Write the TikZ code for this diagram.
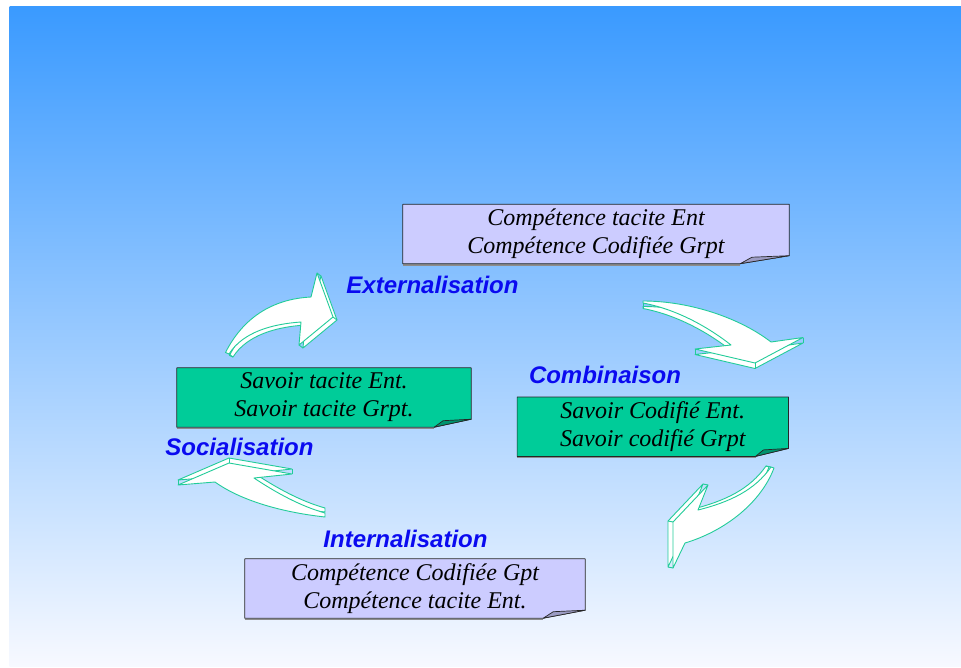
\documentclass[tikz,border=0pt]{standalone}
\usepackage{fontspec}
\setmainfont{Liberation Serif}
\newfontfamily\phasefont{Liberation Sans}
\usetikzlibrary{backgrounds}

\definecolor{bgtop}{HTML}{3A9AFF}
\definecolor{bgbot}{HTML}{F7F9FF}
\definecolor{lav}{HTML}{CCCCFF}
\definecolor{lavfold}{HTML}{9C9CC4}
\definecolor{savoir}{HTML}{00CC99}
\definecolor{savoirfold}{HTML}{00936E}
\definecolor{arrowline}{HTML}{22CC99}
\definecolor{phaseblue}{HTML}{0A0AF0}

\tikzset{
	notebox/.style={minimum height=59pt, inner sep=0pt, align=center,
		font=\itshape\fontsize{24}{28}\selectfont},
	boxline/.style={draw=black!85, line width=0.7pt, line join=round},
	phase/.style={text=phaseblue, inner sep=0pt,
		font=\phasefont\bfseries\itshape\fontsize{24}{28}\selectfont},
	blockarrow/.style={fill=white, draw=arrowline, line width=0.9pt, line join=round},
	arrowedge/.style={draw=arrowline, line width=0.9pt}
}

\begin{document}
\begin{tikzpicture}[x=1pt, y=-1pt]
	\useasboundingbox (0,0) rectangle (961,667);

	% The four knowledge states
	\node[notebox, minimum width=386pt] (ct) at (596,234)
		{Compétence tacite Ent\\Compétence Codifiée Grpt};
	\node[notebox, minimum width=294pt] (st) at (324,397.5)
		{Savoir tacite Ent.\\Savoir tacite Grpt.};
	\node[notebox, minimum width=271pt] (sc) at (652.8,426.7)
		{Savoir Codifié Ent.\\Savoir codifié Grpt};
	\node[notebox, minimum width=340pt] (cc) at (415,588.5)
		{Compétence Codifiée Gpt\\Compétence tacite Ent.};

	% The four conversion phases
	\node[phase] (ext) at (432.5,285) {Externalisation};
	\node[phase] (comb) at (605,375) {Combinaison};
	\node[phase] (soc) at (239.5,447) {Socialisation};
	\node[phase] (int) at (405.5,539) {Internalisation};

	\begin{pgfonlayer}{background}
		% Page and background gradient
		\fill[white] (0,0) rectangle (961,667);
		\shade[top color=bgtop, bottom color=bgbot] (9.5,6) rectangle (961,666);
		% Notes with a folded corner
		\foreach \n/\c/\f/\w in {ct/lav/lavfold/49, st/savoir/savoirfold/37,
				sc/savoir/savoirfold/33, cc/lav/lavfold/42} {
			\draw[black!45, line width=1.6pt] ([yshift=-1.2pt]\n.south west)
				-- ([xshift=-\w pt, yshift=-1.2pt]\n.south east);
			\filldraw[boxline, fill=\c] (\n.north west) -- (\n.north east)
				-- ([yshift=8pt]\n.south east) -- ([xshift=-\w pt]\n.south east)
				-- (\n.south west) -- cycle;
			\filldraw[boxline, fill=\f] ([yshift=8pt]\n.south east)
				-- ([xshift={-0.76*\w pt}, yshift=6.5pt]\n.south east)
				-- ([xshift=-\w pt]\n.south east) -- cycle;
		}
	\end{pgfonlayer}

	% Externalisation arrow
	\foreach \dx/\dy in {4/3, 0/0} {
		\draw[blockarrow, shift={(\dx,\dy)}] (225.5,352.5)
			.. controls (243,318) and (272,299) .. (311,297) -- (317,273)
			-- (333,317) -- (299,345) -- (301,322)
			.. controls (272,324) and (243,332) .. (229,354) -- cycle;
	}
	\foreach \p in {(317,273), (333,317), (299,345), (229,354)}
		\draw[arrowedge] \p -- ++(4,3);
	% Combinaison arrow
	\foreach \dx/\dy in {0/5.5, 0/0} {
		\draw[blockarrow, shift={(\dx,\dy)}] (643,301)
			.. controls (690,301) and (740,318) .. (771,342) -- (803,337.5)
			-- (755,363) -- (695,349) -- (731,345)
			.. controls (712,330) and (680,310) .. (643,303) -- cycle;
	}
	\foreach \p in {(803,337.5), (755,363), (695,349), (643,303)}
		\draw[arrowedge] \p -- ++(0,5.5);
	% Internalisation arrow
	\foreach \dx/\dy in {-5/-1, 0/0} {
		\draw[blockarrow, shift={(\dx,\dy)}] (771,467)
			.. controls (755,490) and (730,502) .. (698,510) -- (708,485)
			-- (673,522) -- (673,568) -- (685,543)
			.. controls (722,532) and (760,505) .. (774,468) -- cycle;
	}
	\foreach \p in {(708,485), (673,522), (673,568), (771,467)}
		\draw[arrowedge] \p -- ++(-5,-1);
	% Socialisation arrow
	\foreach \dx/\dy in {0/-5, 0/0} {
		\draw[blockarrow, shift={(\dx,\dy)}] (178,485) -- (229,463)
			-- (292,474) -- (254,478)
			.. controls (275,492) and (300,506) .. (325,513) -- (325,517)
			.. controls (280,512) and (240,500) .. (215,482) -- cycle;
	}
	\foreach \p in {(178,485), (229,463), (292,474)}
		\draw[arrowedge] \p -- ++(0,-5);
\end{tikzpicture}
\end{document}
